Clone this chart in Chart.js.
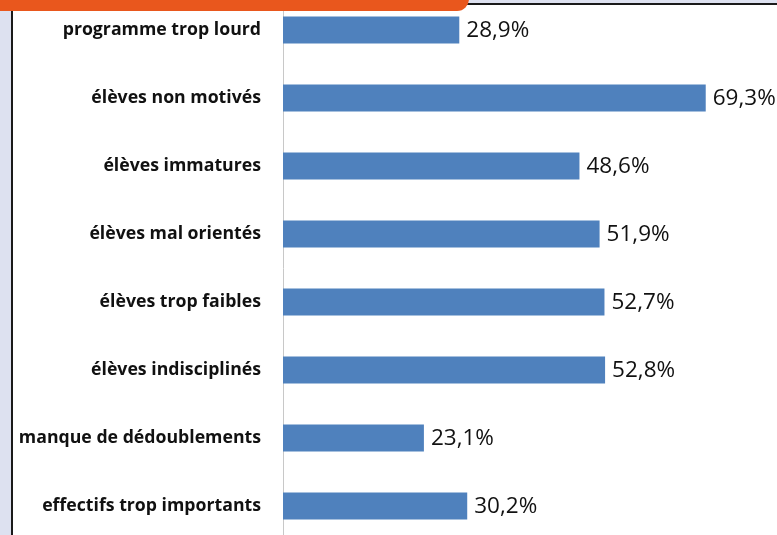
<!DOCTYPE html>
<html>
<head>
<meta charset="utf-8">
<script src="https://cdn.jsdelivr.net/npm/chart.js@4/dist/chart.umd.min.js"></script>
<style>
  html, body { margin: 0; padding: 0; background: #fff; overflow: hidden; }
  body { width: 777px; height: 535px; position: relative; }
  #strip { position: absolute; left: 0; top: 0; width: 11px; height: 535px; background: #dde1f0; }
  #topband { position: absolute; left: 0; top: 0; width: 777px; height: 3px; background: #dde1f0; }
  #vline { position: absolute; left: 11px; top: 0; width: 2px; height: 535px; background: #1a1a1a; }
  #hline { position: absolute; left: 11px; top: 3px; width: 766px; height: 2px; background: #1a1a1a; }
  #tab { position: absolute; left: 0; top: -20px; width: 469px; height: 31px; background: #e9571d; border-radius: 0 0 12px 0; z-index: 3; }
  #wrap { position: absolute; left: 0; top: -4px; width: 777px; height: 544px; }
</style>
</head>
<body>
<div id="strip"></div>
<div id="topband"></div>
<div id="vline"></div>
<div id="hline"></div>
<div id="tab"></div>
<div id="wrap"><canvas id="myChart" width="777" height="544"></canvas></div>
<script>
const categories = [
  "programme trop lourd",
  "élèves non motivés",
  "élèves immatures",
  "élèves mal orientés",
  "élèves trop faibles",
  "élèves indisciplinés",
  "manque de dédoublements",
  "effectifs trop importants"
];
const values = [28.9, 69.3, 48.6, 51.9, 52.7, 52.8, 23.1, 30.2];

// draw "28,9%" style labels right of each bar
const valueLabels = {
  id: "valueLabels",
  afterDatasetsDraw(chart) {
    const ctx = chart.ctx;
    const meta = chart.getDatasetMeta(0);
    ctx.save();
    ctx.font = "22.5px 'Open Sans', sans-serif";
    ctx.fillStyle = "#111";
    ctx.textBaseline = "middle";
    ctx.textAlign = "left";
    meta.data.forEach((bar, i) => {
      const txt = values[i].toFixed(1).replace(".", ",") + "%";
      ctx.fillText(txt, bar.x + 7, bar.y + 1);
    });
    ctx.restore();
  }
};

const myChart = new Chart("myChart", {
  type: "bar",
  data: {
    labels: categories,
    datasets: [
      {
        label: "Part",
        data: values,
        backgroundColor: "#4f81bd",
        borderWidth: 0,
        categoryPercentage: 1,
        barPercentage: 0.4,
      },
    ],
  },
  options: {
    indexAxis: "y",
    responsive: false,
    animation: false,
    layout: { padding: { left: 0, right: 6, top: 0, bottom: 0 } },
    plugins: {
      legend: { display: false },
      tooltip: { enabled: false },
    },
    scales: {
      x: {
        display: false,
        min: 0,
        max: 80,
      },
      y: {
        afterFit(scale) {
          scale.width = 283;
          scale.paddingTop = 0;
          scale.paddingBottom = 0;
        },
        grid: { display: true, drawOnChartArea: false, drawTicks: true, tickLength: 22, color: "rgba(0,0,0,0)" },
        border: { display: true, color: "#c8c8c8", width: 1 },
        ticks: {
          color: "#111",
          padding: 0,
          font: { family: "'Open Sans', sans-serif", weight: "bold", size: 17.7 },
        },
      },
    },
  },
  plugins: [valueLabels],
});
</script>
</body>
</html>
